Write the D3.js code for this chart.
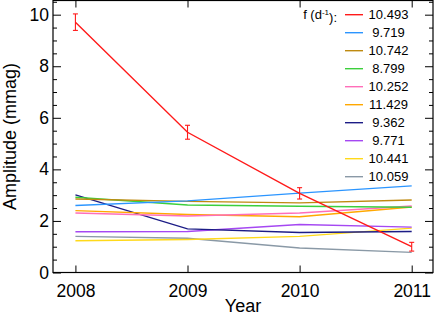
<!DOCTYPE html>
<html>
<head>
<meta charset="utf-8">
<script src="https://cdn.jsdelivr.net/npm/d3@7"></script>
<style>
  body { margin: 0; background: #fff; }
  svg { display: block; font-family: "Liberation Sans", Arial, Helvetica, sans-serif; }
</style>
</head>
<body>
<div id="chart"></div>
<script>
// Data
const years = [2008, 2009, 2010, 2011];
const freqs = ["10.493", "9.719", "10.742", "8.799", "10.252", "11.429", "9.362", "9.771", "10.441", "10.059"];
const colorList = ["#ff1a1a", "#2b95ff", "#bf8a10", "#3ccf3c", "#ff6eb9", "#ffa800", "#1c1c86", "#a548f2", "#ffd91a", "#8a99a6"];

const amp10493 = [9.71, 5.44, 3.07, 1.00];
const err10493 = [0.32, 0.27, 0.22, 0.17];
const amp9719 = [2.60, 2.78, 3.08, 3.36];
const amp10742 = [2.85, 2.76, 2.70, 2.81];
const amp8799 = [2.92, 2.62, 2.57, 2.53];
const amp10252 = [2.31, 2.19, 2.31, 2.58];
const amp11429 = [2.40, 2.25, 2.16, 2.54];
const amp9362 = [3.01, 1.69, 1.55, 1.59];
const amp9771 = [1.58, 1.59, 1.86, 1.76];
const amp10441 = [1.23, 1.28, 1.40, 1.72];
const amp10059 = [1.40, 1.33, 0.95, 0.78];

const yMajor = [0, 2, 4, 6, 8, 10];

const seriesValues = [amp10493, amp9719, amp10742, amp8799, amp10252, amp11429, amp9362, amp9771, amp10441, amp10059];
const series = freqs.map((f, i) => ({
  name: f,
  color: colorList[i],
  values: years.map((yr, j) => ({year: yr, value: seriesValues[i][j]}))
}));

// Dimensions
const width = 436, height = 315;
const margins = {top: 0.5, right: 3, bottom: 42.5, left: 53};

const svg = d3.select("#chart")
  .append("svg")
  .attr("width", width)
  .attr("height", height);

const x = d3.scaleLinear()
  .domain([2007.8, 2011.19])
  .range([margins.left, width - margins.right]);

const y = d3.scaleLinear()
  .domain([0, 10.55])
  .range([height - margins.bottom, margins.top]);

const yMinor = d3.range(0, 10.51, 0.5).filter(v => v % 2 !== 0);

// Lines
const line = d3.line()
  .x(d => x(d.year))
  .y(d => y(d.value));

svg.append("g")
  .selectAll("path")
  .data(series.slice().reverse())
  .join("path")
    .attr("d", d => line(d.values))
    .style("fill", "none")
    .style("stroke", d => d.color)
    .style("stroke-width", 1.4);

// Error bars for the strongest mode
const errData = years.map((yr, j) => ({year: yr, value: amp10493[j], err: err10493[j]}));
const eb = svg.append("g")
  .style("stroke", colorList[0])
  .style("stroke-width", 1.1);

eb.selectAll("line.v")
  .data(errData)
  .join("line")
    .attr("x1", d => x(d.year)).attr("x2", d => x(d.year))
    .attr("y1", d => y(d.value - d.err)).attr("y2", d => y(d.value + d.err));

eb.selectAll("line.top")
  .data(errData)
  .join("line")
    .attr("class", "top")
    .attr("x1", d => x(d.year) - 2.5).attr("x2", d => x(d.year) + 2.5)
    .attr("y1", d => y(d.value + d.err)).attr("y2", d => y(d.value + d.err));

eb.selectAll("line.bot")
  .data(errData)
  .join("line")
    .attr("class", "bot")
    .attr("x1", d => x(d.year) - 2.5).attr("x2", d => x(d.year) + 2.5)
    .attr("y1", d => y(d.value - d.err)).attr("y2", d => y(d.value - d.err));

// Axes
const styleAxis = g => {
  g.selectAll(".tick line").attr("stroke", "#000").attr("stroke-width", 1);
  g.selectAll(".domain").remove();
  g.selectAll("text").style("font-size", "17.5px").attr("fill", "#000");
};

svg.append("g")
    .attr("transform", `translate(${margins.left},0)`)
  .call(d3.axisLeft(y).tickValues(yMajor).tickSize(-8).tickPadding(4))
  .call(styleAxis);

svg.append("g")
    .attr("transform", `translate(${margins.left},0)`)
  .call(d3.axisLeft(y).tickValues(yMinor).tickSize(-4).tickFormat(""))
  .call(styleAxis);

svg.append("g")
    .attr("transform", `translate(${width - margins.right},0)`)
  .call(d3.axisRight(y).tickValues(yMajor).tickSize(-8).tickFormat(""))
  .call(styleAxis);

svg.append("g")
    .attr("transform", `translate(${width - margins.right},0)`)
  .call(d3.axisRight(y).tickValues(yMinor).tickSize(-4).tickFormat(""))
  .call(styleAxis);

svg.append("g")
    .attr("transform", `translate(0,${height - margins.bottom})`)
  .call(d3.axisBottom(x).tickValues(years).tickSize(-7).tickPadding(12).tickFormat(d3.format("d")))
  .call(styleAxis);

svg.append("g")
    .attr("transform", `translate(0,${margins.top})`)
  .call(d3.axisTop(x).tickValues(years).tickSize(-7).tickFormat(""))
  .call(styleAxis);

// Frame
svg.append("rect")
  .attr("x", margins.left)
  .attr("y", margins.top)
  .attr("width", width - margins.right - margins.left)
  .attr("height", height - margins.bottom - margins.top)
  .style("fill", "none")
  .style("stroke", "#000")
  .style("stroke-width", 1.2);

// Axis titles
svg.append("text")
  .attr("x", (margins.left + width - margins.right) / 2)
  .attr("y", 312)
  .attr("text-anchor", "middle")
  .style("font-size", "18px")
  .text("Year");

svg.append("text")
  .attr("transform", `translate(16,${(height - margins.bottom + margins.top) / 2}) rotate(-90)`)
  .attr("text-anchor", "middle")
  .style("font-size", "18px")
  .text("Amplitude (mmag)");

// Legend
const legend = svg.append("g").style("font-size", "13px");
const rowY = i => 14.7 + i * 18;

const title = legend.append("text")
  .attr("x", 337)
  .attr("y", rowY(0))
  .attr("dy", "0.35em")
  .attr("text-anchor", "end");
title.append("tspan").text("f (d");
title.append("tspan").text("-1").style("font-size", "8px").attr("dy", "-0.5em");
title.append("tspan").text("):").attr("dy", "0.5em");

legend.selectAll("line")
  .data(series)
  .join("line")
    .attr("x1", 345).attr("x2", 363)
    .attr("y1", (d, i) => rowY(i)).attr("y2", (d, i) => rowY(i))
    .style("stroke", d => d.color)
    .style("stroke-width", 1.4);

legend.selectAll("text.item")
  .data(series)
  .join("text")
    .attr("class", "item")
    .attr("x", 388.5)
    .attr("y", (d, i) => rowY(i))
    .attr("dy", "0.35em")
    .attr("text-anchor", "middle")
    .text(d => d.name);
</script>
</body>
</html>
